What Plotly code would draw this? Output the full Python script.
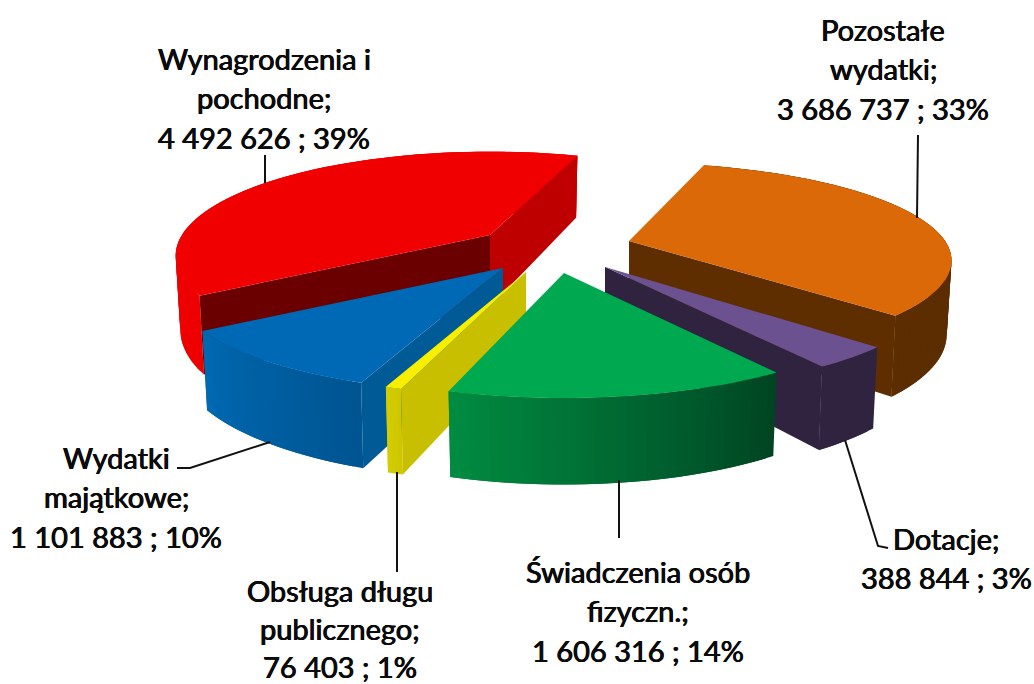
import math
import plotly.graph_objects as go

# Data (clockwise order from the far-side seam)
names = ["Pozostałe<br>wydatki;", "Dotacje;", "Świadczenia osób<br>fizyczn.;",
         "Obsługa długu<br>publicznego;", "Wydatki<br>majątkowe;", "Wynagrodzenia i<br>pochodne;"]
values = [3686737, 388844, 1606316, 76403, 1101883, 4492626]
percents = [33, 3, 14, 1, 10, 39]

# Styling
top_colors = ["#DB6907", "#6C5190", "#00A84F", "#F8EE00", "#0069B5", "#F00000"]
rim_from = [(92, 45, 0), (47, 35, 64), (0, 68, 34), (205, 198, 0), (0, 84, 145), (238, 0, 0)]
rim_to = [(92, 45, 0), (47, 35, 64), (0, 140, 65), (212, 205, 0), (0, 105, 178), (238, 0, 0)]
cut_start = ["#5F2E00", "#2F2340", "#004A22", "#C8BF00", "#005A96", "#6B0000"]
cut_end = ["#5F2E00", "#2F2340", "#007A3A", "#C8BF00", "#005A96", "#BF0000"]

# Exploded apex of each wedge, its radii and small view tilt, in plot units / degrees
apex = [(629, 241), (605, 267), (564, 273), (526, 272), (503, 268), (490, 235)]
radius_x = [316, 325, 318, 318, 322, 308]
radius_y = [94, 100, 100, 100, 100, 100]
tilt = [-2.0, -1.5, -1.5, 0.0, 0.0, 1.3]
PERSP, A0 = 0.2, -71.6
draw_order = [5, 0, 4, 3, 1, 2]

label_pos = {0: (883, 29), 1: (946, 538), 2: (638, 571), 3: (340, 590), 4: (116, 457), 5: (264, 58)}
line_gap = {0: 39.5, 1: 39.5, 2: 39.5, 3: 38.0, 4: 39.5, 5: 39.5}
leaders = [
    ([265, 265], [155, 183]),
    ([918, 917], [135, 218]),
    ([177, 190, 270], [468, 468, 442]),
    ([397, 397], [472, 572]),
    ([619, 619], [480, 538]),
    ([845, 878, 888], [440, 546, 548]),
]


def project(i, deg):
    a = math.radians(deg)
    c, sn = math.cos(a), math.sin(a)
    s = 1 / (1 - PERSP * sn)
    cx, cy = apex[i]
    x, y = cx + radius_x[i] * c * s, cy + radius_y[i] * sn * s
    xb = cx + (x - cx) * 0.985
    yb = y + 62 + 60 * (s - 0.84)
    return (x, y), (xb, yb)


def apex_bottom(i):
    return apex[i][0], apex[i][1] + 72


def poly(fig, pts, color):
    xs = [p[0] for p in pts] + [pts[0][0]]
    ys = [p[1] for p in pts] + [pts[0][1]]
    fig.add_trace(go.Scatter(x=xs, y=ys, mode="none", fill="toself", fillcolor=color,
                             hoverinfo="skip", showlegend=False))


total = sum(values)
spans = []
ang = A0
for v in values:
    sweep = 360 * v / total
    spans.append((ang, ang + sweep))
    ang += sweep

fig = go.Figure()
for i in draw_order:
    a1, a2 = spans[i][0] + tilt[i], spans[i][1] + tilt[i]
    n = max(4, int((a2 - a1) / 1.5))
    degs = [a1 + (a2 - a1) * k / n for k in range(n + 1)]
    # rim: short overlapping quads, each painted over the tail of the previous one
    for k in range(n):
        f = (k + 0.5) / n
        rgb = tuple(round(rim_from[i][j] + (rim_to[i][j] - rim_from[i][j]) * f) for j in range(3))
        t1, b1 = project(i, degs[k])
        t2, b2 = project(i, degs[min(k + 2, n)])
        poly(fig, [t1, t2, b2, b1], "rgb(%d,%d,%d)" % rgb)
    # cut faces that turn towards the viewer
    if math.sin(math.radians(a2 + 90)) > 0:
        t, b = project(i, a2)
        poly(fig, [apex[i], t, b, apex_bottom(i)], cut_end[i])
    if math.sin(math.radians(a1 - 90)) > 0:
        t, b = project(i, a1)
        poly(fig, [apex[i], t, b, apex_bottom(i)], cut_start[i])
    # top face
    poly(fig, [apex[i]] + [project(i, d)[0] for d in degs], top_colors[i])

for lx, ly in leaders:
    fig.add_trace(go.Scatter(x=lx, y=ly, mode="lines", line=dict(color="#111111", width=2),
                             hoverinfo="skip", showlegend=False))


def fmt(v):
    return f"{v:,}".replace(",", " ")


for i, nm in enumerate(names):
    lines = nm.split("<br>") + [f"{fmt(values[i])} ; {percents[i]}%"]
    x0, y0 = label_pos[i]
    for k, line in enumerate(lines):
        fig.add_annotation(x=x0, y=y0 + k * line_gap[i], text=line, showarrow=False,
                           xanchor="center", yanchor="middle",
                           font=dict(family="Lato", size=29, color="#0c0c0c",
                                     shadow="0.4px 0 0.6px #000, -0.4px 0 0.6px #000"))

fig.update_layout(width=1034, height=684, margin=dict(l=0, r=0, t=0, b=0),
                  paper_bgcolor="white", plot_bgcolor="white", showlegend=False,
                  xaxis=dict(range=[0, 1034], visible=False, fixedrange=True),
                  yaxis=dict(range=[684, 0], visible=False, fixedrange=True))
fig.write_html("out.html", config={"displayModeBar": False},
               post_script="document.body.style.margin='0';document.documentElement.style.overflow='hidden';")
